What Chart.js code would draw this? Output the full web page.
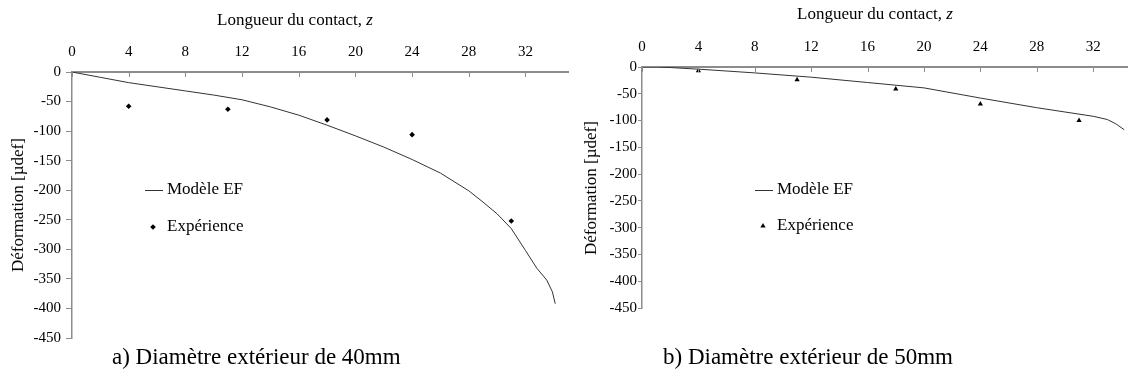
<!DOCTYPE html>
<html>
<head>
<meta charset="utf-8">
<script src="https://cdn.jsdelivr.net/npm/chart.js@4.4.1/dist/chart.umd.min.js"></script>
<style>
  body { margin: 0; background: #fff; width: 1131px; height: 382px; overflow: hidden; position: relative;
         font-family: "Liberation Serif", "Times New Roman", serif; color: #000; }
  canvas { position: absolute; top: 0; }
  .txt { position: absolute; white-space: nowrap; line-height: 20px; }
  .ytitle { position: absolute; white-space: nowrap; font-size: 17px; line-height: 20px;
            transform: translate(-50%, -50%) rotate(-90deg); }
  .caption { position: absolute; white-space: nowrap; font-size: 23px; line-height: 24px; }
</style>
</head>
<body>
<canvas id="chart40" width="575" height="352" style="left:0"></canvas>
<canvas id="chart50" width="556" height="318" style="left:575px"></canvas>

<div class="txt" style="left:217px;top:10px;font-size:17px">Longueur du contact, <i>z</i></div>
<div class="txt" style="left:797px;top:4px;font-size:17px">Longueur du contact, <i>z</i></div>
<div class="ytitle" style="left:18px;top:205px">Déformation [µdef]</div>
<div class="ytitle" style="left:591px;top:188px">Déformation [µdef]</div>
<div class="caption" style="left:112px;top:345px">a) Diamètre extérieur de 40mm</div>
<div class="caption" style="left:663px;top:345px">b) Diamètre extérieur de 50mm</div>

<script>
// axis ticks
const zTicks = [0, 4, 8, 12, 16, 20, 24, 28, 32];
const defTicks = [0, -50, -100, -150, -200, -250, -300, -350, -400, -450];

// a) 40 mm
const modelZ40 = [0, 2, 4, 6, 8, 10, 12, 14, 16, 18, 20, 22, 24, 26, 28, 29, 30, 31, 32, 32.8, 33.5, 33.9, 34.1];
const modelDef40 = [0, -9, -18, -25, -32, -39, -47, -59, -73, -90, -108, -127, -148, -171, -201, -220, -240, -265, -302, -332, -352, -372, -392];

// b) 50 mm
const modelZ50 = [0, 1, 2, 4, 8, 12, 16, 20, 24, 28, 30, 32, 33, 33.6, 34.2];
const modelDef50 = [0, 0, -1, -4, -11, -19, -29, -39, -58, -76, -84, -92, -98, -106, -117];

// experiment
const expZ = [4, 11, 18, 24, 31];
const expDef40 = [-58, -63, -81, -106, -252];
const expDef50 = [-7, -24, -41, -69, -100];

const labelModel = "Modèle EF";
const labelExp = "Expérience";

const FONT = "'Liberation Serif', 'Times New Roman', serif";
const AXIS = "#8c8c8c";

function pts(xs, ys) {
  return xs.map((x, i) => ({ x, y: ys[i] }));
}

// tick marks of the top axis point down into the plot
const innerTicks = {
  id: "innerTicks",
  afterDraw(chart) {
    const { ctx, scales: { x }, chartArea } = chart;
    ctx.save();
    ctx.strokeStyle = AXIS;
    ctx.lineWidth = 1;
    x.ticks.forEach(t => {
      const px = Math.round(x.getPixelForValue(t.value)) + 0.5;
      ctx.beginPath();
      ctx.moveTo(px, chartArea.top);
      ctx.lineTo(px, chartArea.top + 5);
      ctx.stroke();
    });
    ctx.restore();
  }
};

// legend drawn inside the plot like the original
const insideLegend = {
  id: "insideLegend",
  afterDraw(chart, args, opts) {
    const { ctx } = chart;
    const [model, exp] = chart.data.datasets;
    ctx.save();
    ctx.font = "17px " + FONT;
    ctx.fillStyle = "#000";
    ctx.textBaseline = "middle";
    ctx.strokeStyle = model.borderColor;
    ctx.lineWidth = 1;
    ctx.beginPath();
    ctx.moveTo(opts.x0, opts.y1 + 0.5);
    ctx.lineTo(opts.x0 + 18, opts.y1 + 0.5);
    ctx.stroke();
    ctx.fillText(model.label, opts.x0 + 22, opts.y1);
    ctx.fillStyle = exp.backgroundColor;
    Chart.helpers.drawPoint(ctx, { pointStyle: exp.pointStyle, radius: exp.pointRadius, rotation: 0, borderWidth: 0 }, opts.x0 + 8, opts.y2);
    ctx.fillStyle = "#000";
    ctx.fillText(exp.label, opts.x0 + 22, opts.y2);
    ctx.restore();
  }
};

function makeChart(id, modelZ, modelDef, expDef, marker, box) {
  return new Chart(document.getElementById(id), {
    type: "scatter",
    data: {
      datasets: [
        {
          label: labelModel,
          data: pts(modelZ, modelDef),
          showLine: true,
          borderColor: "#333",
          borderWidth: 1,
          pointRadius: 0,
          tension: 0
        },
        {
          label: labelExp,
          data: pts(expZ, expDef),
          showLine: false,
          pointStyle: marker.style,
          pointRadius: marker.radius,
          backgroundColor: "#000",
          borderWidth: 0
        }
      ]
    },
    options: {
      responsive: false,
      animation: false,
      devicePixelRatio: 1,
      layout: { padding: { left: 0, top: 0, right: box.padRight, bottom: box.padBottom } },
      plugins: {
        legend: { display: false },
        tooltip: { enabled: false },
        insideLegend: box.legend
      },
      scales: {
        x: {
          type: "linear",
          position: "top",
          min: 0,
          max: box.xMax,
          afterBuildTicks: s => { s.ticks = zTicks.map(v => ({ value: v })); },
          afterFit: s => { s.height = box.xHeight; },
          grid: { drawOnChartArea: false, drawTicks: false },
          border: { color: AXIS, width: 2 },
          ticks: { padding: 11, color: "#000", font: { family: FONT, size: 15 }, maxRotation: 0 }
        },
        y: {
          type: "linear",
          position: "left",
          min: -450,
          max: 0,
          afterBuildTicks: s => { s.ticks = defTicks.map(v => ({ value: v })); },
          afterFit: s => { s.width = box.yWidth; },
          grid: { drawOnChartArea: false, drawTicks: true, tickLength: box.tickLen, color: AXIS },
          border: { color: AXIS, width: 1.5 },
          ticks: { padding: box.yPad, color: "#000", font: { family: FONT, size: 15 }, callback: v => String(v) }
        }
      }
    },
    plugins: [innerTicks, insideLegend]
  });
}

makeChart("chart40", modelZ40, modelDef40, expDef40,
  { style: "rectRot", radius: 2.8 },
  { xMax: 35, xHeight: 72, yWidth: 72, padRight: 7, padBottom: 9, tickLen: 6, yPad: 5,
    legend: { x0: 145, y1: 190, y2: 227 } });

makeChart("chart50", modelZ50, modelDef50, expDef50,
  { style: "triangle", radius: 3 },
  { xMax: 34.4, xHeight: 67, yWidth: 67, padRight: 3, padBottom: 9, tickLen: 4, yPad: 1,
    legend: { x0: 180, y1: 190, y2: 226 } });
</script>
</body>
</html>
